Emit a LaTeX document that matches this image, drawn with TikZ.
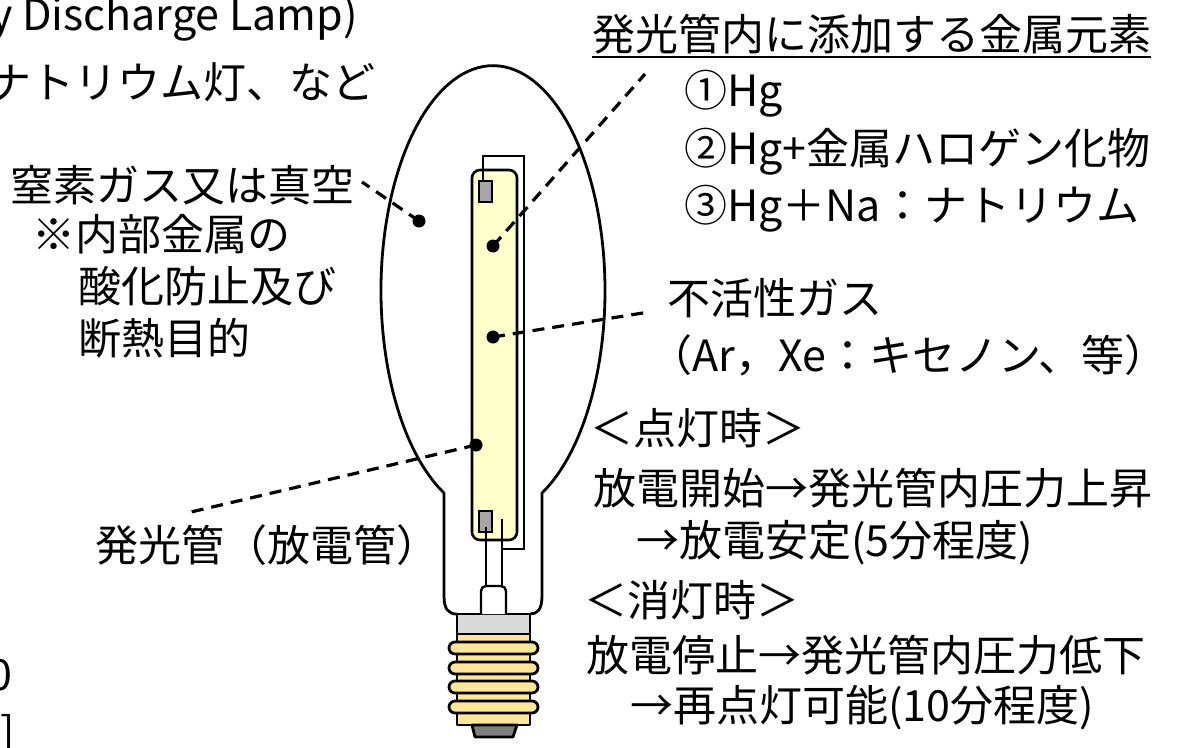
\documentclass[tikz,border=0pt]{standalone}
\usepackage{fontspec}
\setmainfont{Noto Sans CJK JP}
\definecolor{tubefill}{HTML}{FFFFCC}
\definecolor{elecfill}{HTML}{A6A6A6}
\definecolor{capgray}{HTML}{D9D9D9}
\definecolor{capgold}{HTML}{FFE699}
\definecolor{contactgray}{HTML}{7F7F7F}
\begin{document}
\begin{tikzpicture}[x=1pt,y=-1pt,
  txt/.style={inner sep=0pt, anchor=west, text height=32pt, text depth=0pt,
              font=\fontsize{43}{50}\selectfont},
  lat/.style={inner sep=0pt, font=\fontsize{43}{50}\selectfont},
  outline/.style={line width=2.8pt, line join=round},
  basepart/.style={line width=2.8pt, line join=round, draw=black},
  wire/.style={line width=2.4pt, line join=miter},
  tubebox/.style={line width=2.6pt, draw=black, fill=tubefill, rounded corners=8pt},
  elecbox/.style={line width=2.4pt, draw=black, fill=elecfill},
  dot/.style={circle, fill=black, inner sep=0pt, minimum size=13pt},
  leader/.style={line width=3.2pt, dash pattern=on 12pt off 8pt}]
\useasboundingbox (0,0) rectangle (1180,747);
\clip (0,0) rectangle (1180,747);

% ---- lamp base (screw cap) ----
\draw[basepart, fill=capgray] (457,614) rectangle (530,634);
\draw[basepart, fill=capgold] (457,634) rectangle (530,725);
\foreach \ty in {642,662,681,701}
  \draw[basepart, fill=capgold, rounded corners=6pt] (449,\ty) rectangle (538,\ty+12);
\draw[basepart, fill=contactgray] (472,725) -- (517,725) -- (513,737) -- (475,737) -- cycle;

% ---- outer glass bulb ----
\draw[outline] (457,614) .. controls (449,614) and (444,610) .. (444,596) -- (444,493)
  arc[start angle=115.94, end angle=424.06, x radius=112, y radius=225]
  -- (542,596) .. controls (542,610) and (537,614) .. (530,614);

% ---- stem (pinch) and lead wires ----
\draw[wire, fill=white, rounded corners=5pt] (481,614) -- (481,586) -- (506,586) -- (506,614);
\draw[tubebox] (472,170) rectangle (517,540);
\draw[elecbox] (479,181) rectangle (492,202);
\draw[elecbox] (479,511) rectangle (492,532);
\draw[wire] (486,527) -- (486,586);
\draw[wire] (502,519) -- (502,586);
\draw[wire] (483,181) -- (483,156) -- (524,156) -- (524,549) -- (502,549);

% ---- marker dots ----
\node[dot] (dgas) at (419,221) {};
\node[dot] (dmetal) at (493,246) {};
\node[dot] (dinert) at (493,337) {};
\node[dot] (dtube) at (476,445) {};

% ---- leader ends ----
\coordinate (lgas) at (362,182);
\coordinate (lmetal) at (645,74);
\coordinate (linert) at (649,312);
\coordinate (ltube) at (191,512);

\draw[leader] (dgas.center) -- (lgas);
\draw[leader] (dmetal.center) -- (lmetal);
\draw[leader] (dinert.center) -- (linert);
\draw[leader] (dtube.center) -- (ltube);

% ---- left-hand texts ----
\node[lat, anchor=base east] (hid) at (358,30) {y Discharge Lamp)};
\node[txt, anchor=east] (kinds) at (376,82) {ナトリウム灯、など};
\node[txt] (gas1) at (10,185) {窒素ガス又は真空};
\node[txt] (gas2) at (32,234) {※内部金属の};
\node[txt] (gas3) at (78,286) {酸化防止及び};
\node[txt] (gas4) at (78,338) {断熱目的};
\node[txt] (tubelabel) at (95,545) {発光管（放電管）};
\node[lat, anchor=base east] (cut1) at (13,690) {0};
\node[lat, anchor=base east] (cut2) at (15,748) {]};

% ---- right-hand texts ----
\node[txt] (title) at (592,34) {発光管内に添加する金属元素};
\draw[line width=2.8pt] ([yshift=-23pt]title.west) -- ([yshift=-23pt]title.east);
\node[txt] (m1) at (684,90) {①Hg};
\node[txt] (m2) at (684,148) {②Hg+金属ハロゲン化物};
\node[txt] (m3) at (684,205) {③Hg＋Na：ナトリウム};
\node[txt] (inert1) at (667,298) {不活性ガス};
\node[txt] (inert2) at (649,355) {（Ar，Xe：キセノン、等）};
\node[txt] (on0) at (590,428) {＜点灯時＞};
\node[txt] (on1) at (593,488) {放電開始→発光管内圧力上昇};
\node[txt] (on2) at (636,540) {→放電安定(5分程度)};
\node[txt] (off0) at (584,600) {＜消灯時＞};
\node[txt] (off1) at (586,655) {放電停止→発光管内圧力低下};
\node[txt] (off2) at (630,705) {→再点灯可能(10分程度)};
\end{tikzpicture}
\end{document}
